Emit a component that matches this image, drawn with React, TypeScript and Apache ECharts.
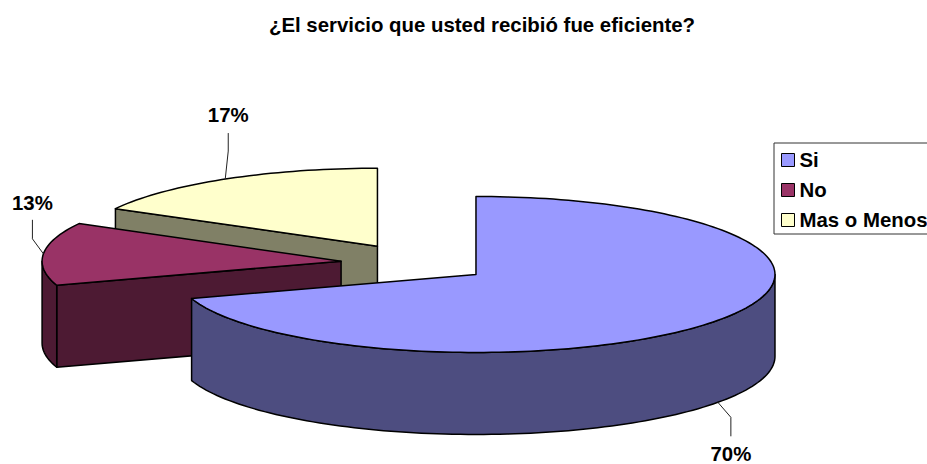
import React, { useEffect, useRef } from "react";
import * as echarts from "echarts";

const titleText = "¿El servicio que usted recibió fue eficiente?";
const categories = ["Si", "No", "Mas o Menos"];
const shares = [70, 13, 17];
const topColors = ["#9999FF", "#993366", "#FFFFCC"];
const wallColors = ["#4D4D80", "#4D1A33", "#808066"];

// Leader line and label offsets from the slice's rim anchor: [elbow, end, text]
const leaderOffsets = [
  [[13, 15], [13, 34], [13, 52]],
  [[-11, -15], [-11, -34], [-11, -51]],
  [[3, -28], [3, -46], [3, -64]],
];

// Tilted pie geometry
const CX = 415.5;
const CY = 263;
const RX = 299;
const RY = 78;
const DEPTH = 82;
const EXPLODE = 0.25;
const FONT = "'Liberation Sans', Arial, sans-serif";

const total = shares.reduce((a, b) => a + b, 0);
const RAD = Math.PI / 180;

function arcPoints(ox: number, oy: number, a0: number, a1: number, drop = 0) {
  const steps = Math.max(2, Math.ceil(Math.abs(a1 - a0) / 1.5));
  const pts: number[][] = [];
  for (let i = 0; i <= steps; i++) {
    const a = (a0 + ((a1 - a0) * i) / steps) * RAD;
    pts.push([ox + RX * Math.sin(a), oy - RY * Math.cos(a) + drop]);
  }
  return pts;
}

function sliceRender(index: number) {
  return (_params: any, api: any) => {
    const value = api.value(0);
    const before = shares.slice(0, index).reduce((a, b) => a + b, 0);
    const a0 = (before / total) * 360;
    const a1 = ((before + value) / total) * 360;
    const mid = ((a0 + a1) / 2) * RAD;
    const ox = CX + EXPLODE * RX * Math.sin(mid);
    const oy = CY - EXPLODE * RY * Math.cos(mid);

    const edge = { stroke: "#000", lineWidth: 1.5, lineJoin: "round" };
    const children: any[] = [];
    const wall = (points: number[][]) =>
      children.push({
        type: "polygon",
        shape: { points },
        style: { fill: wallColors[index], ...edge },
      });
    const radialFace = (a: number) => {
      const [rim] = arcPoints(ox, oy, a, a);
      wall([[ox, oy], rim, [rim[0], rim[1] + DEPTH], [ox, oy + DEPTH]]);
    };

    if (Math.sin(a0 * RAD) < -1e-6) radialFace(a0);
    if (Math.sin(a1 * RAD) > 1e-6) radialFace(a1);

    const wallFrom = Math.max(a0, 90);
    const wallTo = Math.min(a1, 270);
    if (wallTo > wallFrom) {
      const rimTop = arcPoints(ox, oy, wallFrom, wallTo);
      const rimBottom = arcPoints(ox, oy, wallFrom, wallTo, DEPTH).reverse();
      wall([...rimTop, ...rimBottom]);
    }

    children.push({
      type: "polygon",
      shape: { points: [[ox, oy], ...arcPoints(ox, oy, a0, a1)] },
      style: { fill: topColors[index], ...edge },
    });

    // The leader starts on the rim at the slice's mid angle; front slices use the lower rim.
    const midDeg = (a0 + a1) / 2;
    const startY = Math.cos(mid) < 0 ? DEPTH : 0;
    const [anchor] = arcPoints(ox, oy, midDeg, midDeg, startY);
    const [elbow, end, text] = leaderOffsets[index];
    children.push({
      type: "polyline",
      shape: {
        points: [
          anchor,
          [anchor[0] + elbow[0], anchor[1] + elbow[1]],
          [anchor[0] + end[0], anchor[1] + end[1]],
        ],
      },
      style: { fill: "none", stroke: "#222", lineWidth: 1 },
    });
    children.push({
      type: "text",
      style: {
        x: anchor[0] + text[0],
        y: anchor[1] + text[1],
        text: `${value}%`,
        fill: "#000",
        font: `bold 20.4px ${FONT}`,
        align: "center",
        verticalAlign: "middle",
      },
    });

    return { type: "group", silent: true, children };
  };
}

export default function App() {
  const host = useRef<HTMLDivElement>(null);

  useEffect(() => {
    const chart = echarts.init(host.current!, undefined, { renderer: "svg" });
    // Painted back to front so the nearest slice covers the others.
    const paintOrder = [2, 1, 0];
    chart.setOption({
      animation: false,
      backgroundColor: "#fff",
      title: {
        text: titleText,
        left: 482,
        top: 15,
        textAlign: "center",
        padding: 0,
        textStyle: { fontFamily: FONT, fontWeight: "bold", fontSize: 20.4, color: "#000" },
      },
      legend: {
        data: categories,
        orient: "vertical",
        left: 774,
        top: 143,
        padding: [7, 8, 4, 7],
        itemWidth: 13,
        itemHeight: 13,
        itemGap: 10,
        icon: "rect",
        selectedMode: false,
        backgroundColor: "#fff",
        borderColor: "#333",
        borderWidth: 1,
        itemStyle: { borderColor: "#000", borderWidth: 1 },
        textStyle: { fontFamily: FONT, fontWeight: "bold", fontSize: 20.4, color: "#000" },
      },
      series: paintOrder.map((i) => ({
        type: "custom",
        name: categories[i],
        coordinateSystem: "none",
        itemStyle: { color: topColors[i] },
        data: [[shares[i]]],
        renderItem: sliceRender(i),
      })),
    });
    return () => chart.dispose();
  }, []);

  return (
    <div
      ref={host}
      style={{ position: "absolute", left: 0, top: 0, width: 927, height: 464 }}
    />
  );
}
